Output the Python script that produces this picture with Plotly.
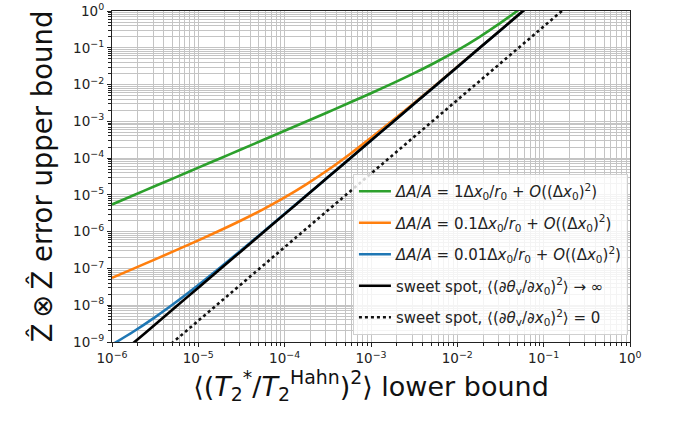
import plotly.graph_objects as go

# x: <(T2*/T2Hahn)^2> lower bound, quarter-decade samples 1e-6 .. 1
x_vals = [1.000e-6, 1.778e-6, 3.162e-6, 5.623e-6, 1.000e-5, 1.778e-5, 3.162e-5, 5.623e-5,
          1.000e-4, 1.778e-4, 3.162e-4, 5.623e-4, 1.000e-3, 1.778e-3, 3.162e-3, 5.623e-3,
          1.000e-2, 1.778e-2, 3.162e-2, 5.623e-2, 1.000e-1, 1.778e-1, 3.162e-1, 5.623e-1, 1.0]

# dA/A = 1
green_y = [5.50e-6, 9.78e-6, 1.739e-5, 3.094e-5, 5.50e-5, 9.79e-5, 1.742e-4, 3.10e-4,
           5.53e-4, 9.87e-4, 1.769e-3, 3.19e-3, 5.80e-3, 1.073e-2, 2.04e-2, 4.04e-2,
           8.5e-2, 0.193, 0.474, 1.258, 3.55, 10.5]
# dA/A = 0.1
orange_y = [5.53e-8, 9.87e-8, 1.769e-7, 3.19e-7, 5.80e-7, 1.073e-6, 2.04e-6, 4.04e-6,
            8.5e-6, 1.927e-5, 4.74e-5, 1.258e-4, 3.55e-4, 1.047e-3, 3.17e-3, 9.80e-3,
            3.06e-2, 9.59e-2, 0.302, 0.952, 3.006]
# dA/A = 0.01
blue_y = [8.5e-10, 1.927e-9, 4.74e-9, 1.258e-8, 3.55e-8, 1.047e-7, 3.17e-7, 9.80e-7,
          3.055e-6, 9.59e-6, 3.02e-5, 9.52e-5, 3.006e-4, 9.50e-4, 3.002e-3, 9.49e-3,
          3.0e-2, 9.49e-2, 0.300, 0.949, 3.0]
# sweet spot, derivative -> infinity
black_y = [3.0e-10, 9.49e-10, 3.0e-9, 9.49e-9, 3.0e-8, 9.49e-8, 3.0e-7, 9.49e-7,
           3.0e-6, 9.49e-6, 3.0e-5, 9.49e-5, 3.0e-4, 9.49e-4, 3.0e-3, 9.49e-3,
           3.0e-2, 9.49e-2, 0.30, 0.949, 3.0, 9.49, 30.0, 94.9, 300.0]
# sweet spot, derivative = 0
dotted_y = [3.8e-11, 1.2e-10, 3.8e-10, 1.2e-9, 3.8e-9, 1.2e-8, 3.8e-8, 1.2e-7,
            3.8e-7, 1.2e-6, 3.8e-6, 1.2e-5, 3.8e-5, 1.2e-4, 3.8e-4, 1.2e-3,
            3.8e-3, 1.2e-2, 3.8e-2, 0.12, 0.38, 1.2, 3.8, 12.0, 38.0]

x_tick_vals = [1e-6, 1e-5, 1e-4, 1e-3, 1e-2, 1e-1, 1]
x_tick_text = ["10<sup>−6</sup>", "10<sup>−5</sup>", "10<sup>−4</sup>", "10<sup>−3</sup>",
               "10<sup>−2</sup>", "10<sup>−1</sup>", "10<sup>0</sup>"]
y_tick_vals = [1e-9, 1e-8, 1e-7, 1e-6, 1e-5, 1e-4, 1e-3, 1e-2, 1e-1, 1]
y_tick_text = ["10<sup>−9</sup>", "10<sup>−8</sup>", "10<sup>−7</sup>", "10<sup>−6</sup>",
               "10<sup>−5</sup>", "10<sup>−4</sup>", "10<sup>−3</sup>", "10<sup>−2</sup>",
               "10<sup>−1</sup>", "10<sup>0</sup>"]

names = [
    "<i>ΔA</i>/<i>A</i> = 1Δ<i>x</i><sub>0</sub>/<i>r</i><sub>0</sub> + <i>O</i>((Δ<i>x</i><sub>0</sub>)<sup>2</sup>)",
    "<i>ΔA</i>/<i>A</i> = 0.1Δ<i>x</i><sub>0</sub>/<i>r</i><sub>0</sub> + <i>O</i>((Δ<i>x</i><sub>0</sub>)<sup>2</sup>)",
    "<i>ΔA</i>/<i>A</i> = 0.01Δ<i>x</i><sub>0</sub>/<i>r</i><sub>0</sub> + <i>O</i>((Δ<i>x</i><sub>0</sub>)<sup>2</sup>)",
    "sweet spot, ⟨(∂<i>θ</i><sub>v</sub>/∂<i>x</i><sub>0</sub>)<sup>2</sup>⟩ → ∞",
    "sweet spot, ⟨(∂<i>θ</i><sub>v</sub>/∂<i>x</i><sub>0</sub>)<sup>2</sup>⟩ = 0",
]

fig = go.Figure()
series = [
    (green_y, "#2ca02c", "solid"),
    (orange_y, "#ff7f0e", "solid"),
    (blue_y, "#1f77b4", "solid"),
    (black_y, "#000000", "solid"),
    (dotted_y, "#111111", "dot"),
]
for i, (ys, col, dash) in enumerate(series):
    fig.add_trace(go.Scatter(
        x=x_vals[:len(ys)], y=ys, mode="lines", name=names[i],
        line=dict(color=col, width=2.6, dash=dash, shape="spline"),
        legendgroup=f"g{i}",
    ))

minor_vals = [m * 10.0 ** e for e in range(-10, 1) for m in range(2, 10)]
grid_col = "#c4c4c4"

axis_common = dict(
    type="log", showline=True, linecolor="#222", linewidth=1.2, mirror=True,
    ticks="outside", ticklen=4, tickcolor="#222", tickwidth=1,
    showgrid=True, gridcolor=grid_col, gridwidth=1, zeroline=False,
    automargin=False, ticklabeloverflow="allow",
    tickfont=dict(family="DejaVu Sans", size=13.5, color="#222"),
    minor=dict(tickmode="array", tickvals=minor_vals, ticks="outside", ticklen=2.5,
               tickcolor="#222", showgrid=True, gridcolor=grid_col, gridwidth=1),
)

fig.update_xaxes(
    range=[-6, 0], tickmode="array", tickvals=x_tick_vals, ticktext=x_tick_text,
    title=dict(text="⟨(<i>T</i><sub>2</sub><sup>*</sup>/<i>T</i><sub>2</sub><sup>Hahn</sup>)<sup>2</sup>⟩ lower bound",
               font=dict(family="DejaVu Sans", size=27, color="#111"), standoff=8),
    **axis_common,
)
fig.update_yaxes(
    range=[-9, 0], tickmode="array", tickvals=y_tick_vals, ticktext=y_tick_text,
    title=dict(text="Ẑ\u2009⊗\u2009Ẑ error upper bound",
               font=dict(family="DejaVu Sans", size=27.5, color="#111"), standoff=12),
    **axis_common,
)

fig.update_layout(
    width=678, height=424,
    margin=dict(l=112, r=48, t=11, b=82),
    paper_bgcolor="white", plot_bgcolor="white",
    font=dict(family="DejaVu Sans", color="#222"),
    legend=dict(
        x=0.996, y=0.021, xanchor="right", yanchor="bottom",
        bgcolor="rgba(255,255,255,0.82)", bordercolor="#d0d0d0", borderwidth=1,
        font=dict(family="DejaVu Sans", size=15, color="#222"),
        tracegroupgap=9, itemwidth=32,
    ),
    showlegend=True,
)

# remove the browser's default 8px body margin so the figure sits at the page corner
fig.write_html("out.html", config={"displayModeBar": False},
               post_script="document.body.style.margin='0px';")
